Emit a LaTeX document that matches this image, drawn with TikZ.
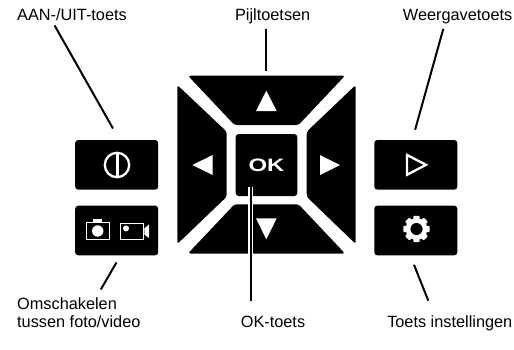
\documentclass[tikz,border=0pt]{standalone}
\usepackage{fontspec}
\setmainfont{Liberation Sans}
\usetikzlibrary{positioning}

\tikzset{
  toets/.style={rectangle,fill=black,rounded corners=3pt,minimum width=83pt,minimum height=49.6pt,inner sep=0pt},
  pijlvlak/.style={fill=black,rounded corners=2.5pt},
  pijlpunt/.style={fill=white},
  lijn/.style={line width=2pt},
  tekst/.style={inner sep=0pt,font=\fontsize{16.3}{17.8}\selectfont,align=left},
  icoon/.style={draw=white,line width=1pt}
}

\begin{document}
\begin{tikzpicture}[x=1pt,y=-1pt]

\useasboundingbox (0,0) rectangle (514,349);

% Arrow pad
\fill[pijlvlak] (188,75.7) -- (345,75.7) -- (298.5,125) -- (234.5,125) -- cycle;
\fill[pijlvlak] (188,253.5) -- (345,253.5) -- (298.5,204.3) -- (234.5,204.3) -- cycle;
\fill[pijlvlak] (177.3,85) -- (226.7,131.7) -- (226.7,196.7) -- (177.3,244) -- cycle;
\fill[pijlvlak] (355.7,85) -- (306.7,131.7) -- (306.7,196.7) -- (355.7,244) -- cycle;
\coordinate (padboven) at (266.3,75.7);

% Arrow tips on the pad
\fill[pijlpunt] (266.3,90.7) -- (276.7,111) -- (256,111) -- cycle;
\fill[pijlpunt] (266.3,239.3) -- (276.7,218.3) -- (256,218.3) -- cycle;
\fill[pijlpunt] (192.3,165) -- (212.7,155) -- (212.7,175) -- cycle;
\fill[pijlpunt] (340,165) -- (320,155) -- (320,175) -- cycle;

% Buttons
\node[toets] (aantoets) at (116.7,164.8) {};
\node[toets] (wisseltoets) at (116.7,230.5) {};
\node[toets] (weergavetoets) at (415.8,164.8) {};
\node[toets] (insteltoets) at (415.8,230.5) {};
\node[toets,minimum width=61.6pt,minimum height=62pt] (oktoets) at (266.5,165) {};
\node[text=white,font=\fontsize{18}{18}\selectfont\bfseries,inner sep=0pt,xscale=1.33] (oktekst) at (266.5,165) {OK};

% Power symbol
\draw[white,line width=2.3pt] (117,165) circle (12.2);
\fill[white] (115.5,152) rectangle (118.8,178);

% Camera symbol
\draw[icoon] (86.3,222.9) rectangle (109.3,239);
\fill[white] (93.3,219.3) rectangle (102.3,222.9);
\fill[white] (97.7,231) circle (5.7);

% Video symbol
\draw[icoon] (120.9,223.4) rectangle (143.3,239.2);
\fill[white] (126,228.4) circle (3);
\fill[white] (144.3,228.3) -- (149,224.5) -- (149,238) -- (144.3,234.5) -- cycle;

% Play symbol
\draw[white,line width=2.3pt,line join=miter] (407,155) -- (426,164.8) -- (407,174.8) -- cycle;

% Gear symbol
\foreach \hoek in {0,45,...,315}
  \fill[white,rounded corners=1pt,rotate around={\hoek:(416.5,229)}] (413.4,215.8) rectangle (419.6,220);
\draw[white,line width=4.6pt] (416.5,229) circle (8.5);

% Labels
\node[tekst,anchor=base west] (aantekst) at (17,20.5) {AAN-/UIT-toets};
\node[tekst,anchor=base] (pijltekst) at (272.7,20.5) {Pijltoetsen};
\node[tekst,anchor=base east] (weergavetekst) at (512.5,20.5) {Weergavetoets};
\node[tekst,anchor=base west] (wisseltekst) at (17,327) {Omschakelen\\tussen foto/video};
\node[tekst,anchor=base] (oktoetstekst) at (273,327) {OK-toets};
\node[tekst,anchor=base east] (insteltekst) at (512.5,327) {Toets instellingen};

% Connectors
\draw[lijn,shorten <=5.2pt,shorten >=13pt] ([xshift=-20pt]aantekst.south) -- ([xshift=2.7pt]aantoets.north);
\draw[lijn,shorten <=4.5pt,shorten >=4.7pt] (pijltekst.south -| padboven) -- (padboven);
\draw[lijn,shorten <=5pt,shorten >=10.5pt] ([xshift=-13pt]weergavetekst.south) -- ([xshift=-3.5pt]weergavetoets.north);
\draw[lijn,shorten <=8pt,shorten >=13pt] ([xshift=3.8pt]wisseltoets.south) -- (94.3,300.7);
\draw[lijn,shorten <=10pt] ([xshift=-5.5pt]insteltoets.south) -- (428.3,300.7);

% OK line with a white edge inside the black parts
\draw[white,line width=5pt] (250.5,186.7) -- (250.5,253.5);
\draw[lijn] (250.5,186.7) -- (250.5,300.7);

\end{tikzpicture}
\end{document}
